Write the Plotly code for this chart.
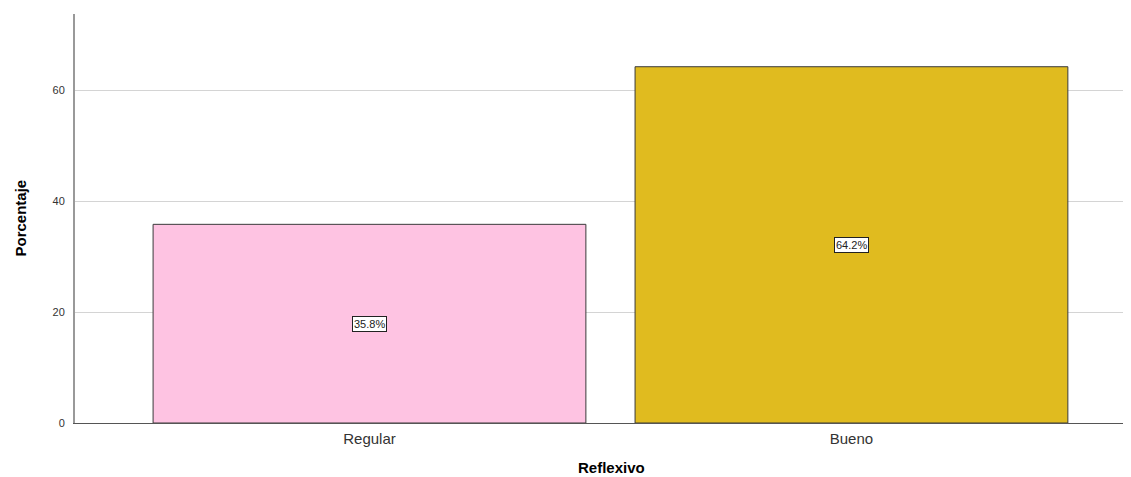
import plotly.graph_objects as go

categories = ["Regular", "Bueno"]
percentages = [35.8, 64.2]
bar_colors = ["#FEC3E2", "#E0BB1F"]
label_texts = ["35.8%", "64.2%"]

fig = go.Figure()
fig.add_trace(go.Bar(
    x=categories, y=percentages, width=0.898,
    marker=dict(color=bar_colors, line=dict(color="#3a3a3a", width=1)),
    hoverinfo="skip",
))

for c, v, t in zip(categories, percentages, label_texts):
    fig.add_annotation(
        x=c, y=v / 2, text=t, showarrow=False,
        font=dict(family="Liberation Sans, Arial", size=11, color="#222"),
        bgcolor="white", bordercolor="#222", borderwidth=1, borderpad=1,
    )

fig.add_annotation(
    xref="paper", yref="paper", x=0, y=0.5, xshift=-55, text="<b>Porcentaje</b>",
    textangle=-90, showarrow=False, xanchor="center", yanchor="middle",
    font=dict(family="Liberation Sans Narrow, Arial Narrow, Liberation Sans", size=15, color="black"),
)
fig.add_annotation(
    xref="paper", yref="paper", x=(611 - 75) / (1131 - 75), y=0, yshift=-44,
    text="<b>Reflexivo</b>", showarrow=False, xanchor="center", yanchor="middle",
    font=dict(family="Liberation Sans, Arial", size=15, color="black"),
)

fig.update_layout(
    width=1123, height=469,
    margin=dict(l=67, r=0, t=6, b=54),
    paper_bgcolor="white", plot_bgcolor="white",
    showlegend=False,
    xaxis=dict(
        type="category", range=[-0.611, 1.58],
        showline=True, linecolor="#555", linewidth=1,
        showgrid=False, ticks="outside", ticklen=2, tickcolor="white",
        tickfont=dict(family="Liberation Sans, Arial", size=15, color="#333"),
        fixedrange=True,
    ),
    yaxis=dict(
        range=[0, 73.7], tickvals=[0, 20, 40, 60],
        showline=True, linecolor="#999", linewidth=2,
        showgrid=True, gridcolor="#d4d4d4", gridwidth=1,
        ticks="outside", ticklen=6, tickcolor="white",
        tickfont=dict(family="Liberation Sans, Arial", size=11, color="#333"),
        zeroline=False,
    ),
)

fig.write_html("out.html")
